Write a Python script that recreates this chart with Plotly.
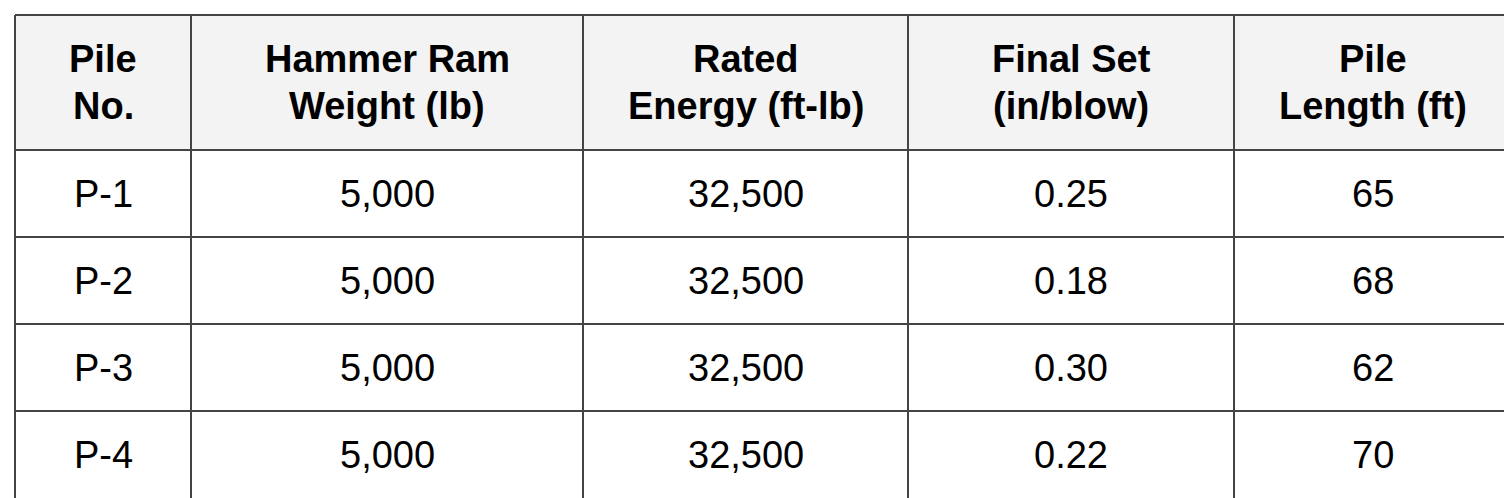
import plotly.graph_objects as go

header_line1 = ["Pile", "Hammer Ram", "Rated", "Final Set", "Pile"]
header_line2 = ["No.", "Weight (lb)", "Energy (ft-lb)", "(in/blow)", "Length (ft)"]
pile_no = ["P-1", "P-2", "P-3", "P-4"]
ram_weight = ["5,000", "5,000", "5,000", "5,000"]
rated_energy = ["32,500", "32,500", "32,500", "32,500"]
final_set = ["0.25", "0.18", "0.30", "0.22"]
pile_length = ["65", "68", "62", "70"]
columns = [pile_no, ram_weight, rated_energy, final_set, pile_length]

# layout geometry in pixels
col_edges = [7, 183, 575, 900, 1226, 1504]
row_edges = [7, 142, 229, 316, 403, 491]
line_col = "#444"
font = dict(family="Arial, Liberation Sans", size=38, color="black")

fig = go.Figure()
fig.add_shape(type="rect", x0=col_edges[0], x1=col_edges[-1], y0=row_edges[0], y1=row_edges[1],
              fillcolor="#f3f3f3", line_width=0, layer="below")
for x in col_edges:
    fig.add_shape(type="line", x0=x, x1=x, y0=row_edges[0], y1=row_edges[-1],
                  line=dict(color=line_col, width=2))
for y in row_edges:
    fig.add_shape(type="line", x0=col_edges[0], x1=col_edges[-1], y0=y, y1=y,
                  line=dict(color=line_col, width=2))

centers = [(a + b) / 2 for a, b in zip(col_edges[:-1], col_edges[1:])]
hmid = (row_edges[0] + row_edges[1]) / 2
for cx, t1, t2 in zip(centers, header_line1, header_line2):
    fig.add_annotation(x=cx, y=hmid - 24, text=f"<b>{t1}</b>", showarrow=False, font=font)
    fig.add_annotation(x=cx, y=hmid + 23, text=f"<b>{t2}</b>", showarrow=False, font=font)
for cx, col in zip(centers, columns):
    for i, val in enumerate(col):
        cy = (row_edges[i + 1] + row_edges[i + 2]) / 2
        fig.add_annotation(x=cx, y=cy, text=val, showarrow=False, font=font)

fig.update_xaxes(range=[0, 1512], visible=False)
fig.update_yaxes(range=[498, 0], visible=False)
fig.update_layout(width=1512, height=498, margin=dict(l=0, r=0, t=0, b=0),
                  paper_bgcolor="white", plot_bgcolor="white")
fig.write_html("out.html")
